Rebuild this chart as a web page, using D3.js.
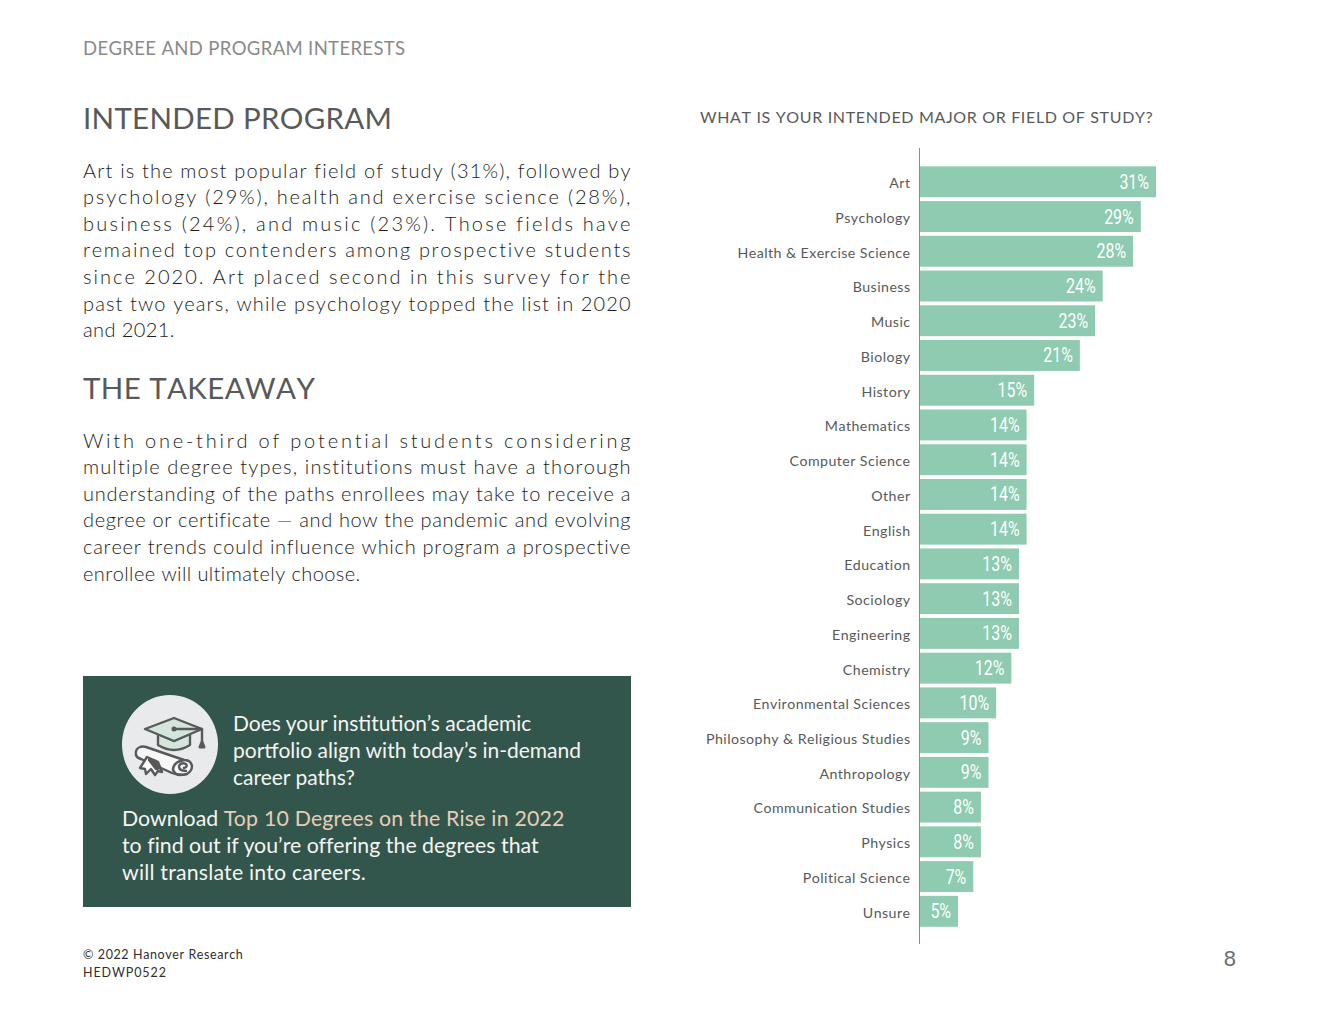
<!DOCTYPE html>
<html><head><meta charset="utf-8">
<script src="https://cdn.jsdelivr.net/npm/d3@7"></script>
<style>html,body{margin:0;background:#fff}svg{display:block}text{font-family:Lato,sans-serif;font-kerning:none;font-variant-ligatures:none}</style>
</head><body><div id="c"></div>
<script>
const categories=["Art","Psychology","Health & Exercise Science","Business","Music","Biology","History","Mathematics","Computer Science","Other","English","Education","Sociology","Engineering","Chemistry","Environmental Sciences","Philosophy & Religious Studies","Anthropology","Communication Studies","Physics","Political Science","Unsure"];
const values=[31,29,28,24,23,21,15,14,14,14,14,13,13,13,12,10,9,9,8,8,7,5];
const para1=["Art is the most popular field of study (31%), followed by","psychology (29%), health and exercise science (28%),","business (24%), and music (23%). Those fields have","remained top contenders among prospective students","since 2020. Art placed second in this survey for the","past two years, while psychology topped the list in 2020","and 2021."];
const para2=["With one-third of potential students considering","multiple degree types, institutions must have a thorough","understanding of the paths enrollees may take to receive a","degree or certificate — and how the pandemic and evolving","career trends could influence which program a prospective","enrollee will ultimately choose."];
const calloutA=["Does your institution’s academic","portfolio align with today’s in-demand","career paths?"];
const svg=d3.select("#c").append("svg").attr("width",1320).attr("height",1020);
const T=(x,y,s,size,fill,o={})=>{const t=svg.append("text").attr("x",x).attr("y",y).attr("font-size",size).attr("fill",fill).text(s);
 Object.entries(o).forEach(([k,v])=>t.attr(k,v));return t;};
T(83,54.5,"DEGREE AND PROGRAM INTERESTS",18.5,"#8a8a8a",{"letter-spacing":"0.35"});
T(83,129,"INTENDED PROGRAM",29.5,"#58595b",{"letter-spacing":"0.3"});
T(83,399,"THE TAKEAWAY",29.5,"#58595b",{"letter-spacing":"0.4"});
const para=(lines,y0)=>lines.forEach((l,i)=>{const last=i===lines.length-1;
 const o={"font-weight":300};
 if(!last){o.textLength=547.5;o.lengthAdjust="spacing";}else o["letter-spacing"]="0.4";
 T(83,y0+i*26.55,l,20,"#1c1c1c",o);});
para(para1,177.8);
para(para2,447.8);
// callout
svg.append("rect").attr("x",83).attr("y",676).attr("width",548).attr("height",231).attr("fill","#33564c");
const lig={style:"font-kerning:normal;font-variant-ligatures:normal"};
calloutA.forEach((l,i)=>T(233,731+i*27,l,21,"#f4f4f2",lig));
const d=T(122,826,"Download ",21.3,"#f4f4f2",lig);
d.append("tspan").attr("fill","#e6cdb8").attr("letter-spacing","0.2").text("Top 10 Degrees on the Rise in 2022");
T(122,853,"to find out if you’re offering the degrees that",21.3,"#f4f4f2",{...lig,"letter-spacing":"0.02"});
T(122,880,"will translate into careers.",21.3,"#f4f4f2",{...lig,"letter-spacing":"0.2"});
// icon
const ic=svg.append("g");
ic.append("ellipse").attr("cx",170).attr("cy",744.5).attr("rx",48).attr("ry",49.5).attr("fill","#e9eaeb");
const st={stroke:"#58595b","stroke-width":2.4,"stroke-linejoin":"round","stroke-linecap":"round"};
const P=(p,f)=>{const e=ic.append("path").attr("d",p).attr("fill",f||"none");Object.entries(st).forEach(([k,v])=>e.attr(k,v));return e;};
P("M158,734 V745 Q174,755 190,745 V734 L174,741 Z","#d3e6dc");
P("M145,729 L174,718 L202,729 L174,741 Z","#d3e6dc");
P("M174,729 H202 V742");
P("M200,747 L202,742 L204,747 Z","#58595b").attr("stroke-width",3);
ic.append("circle").attr("cx",174).attr("cy",729).attr("r",2.5).attr("fill","#58595b");
P("M140,747 Q135,749 136,755 Q137,758 141,759 L172,773 Q180,776 187,774 Q192,771 192,766 Q191,760 184,760 L146,747 Q143,746 140,747 Z","#f7f7f7");
P("M184,760 Q173,762 173,770 Q175,775 181,775");
P("M186,771 Q179,771 179,766 Q181,762 186,764 Q188,767 184,768");
P("M147,757 L140,768 L145,769 L146,774 L151,769 L155,775 L158,771 L162,772 L158,762 Z","#fff");
P("M149,760 L156,769 L160,768 L156,761 Z","#58595b");
// chart
T(700,122.5,"WHAT IS YOUR INTENDED MAJOR OR FIELD OF STUDY?",16,"#58595b",{"letter-spacing":"0.66"});
const x=d3.scaleLinear().domain([0,31]).range([920,1156]);
const y=d3.scaleBand().domain(categories).range([164.6,928.5]).paddingInner(0.11).paddingOuter(0.05);
const rows=categories.map((c,i)=>({c,v:values[i]}));
svg.selectAll("rect.bar").data(rows).join("rect").attr("class","bar")
 .attr("x",x(0)).attr("y",r=>y(r.c)).attr("width",r=>x(r.v)-x(0)).attr("height",y.bandwidth()).attr("fill","#8ecbb1");
const axis=d3.axisLeft(y).tickSize(0).tickPadding(9);
const yAxis=svg.append("g").attr("transform","translate(919.5,0)").call(axis);
yAxis.select(".domain").remove();
yAxis.selectAll("text").attr("font-size",14.2).attr("font-family","Lato").attr("fill","#58595b").attr("letter-spacing","0.44").attr("dy","0.45em");
svg.append("line").attr("x1",919.5).attr("x2",919.5).attr("y1",148).attr("y2",944).attr("stroke","#8a8c8e").attr("stroke-width",1);
svg.selectAll("text.v").data(rows).join("text").attr("class","v")
 .attr("text-anchor","end").attr("transform",r=>`translate(${x(r.v)-7},${y(r.c)+y.bandwidth()/2+7}) scale(0.76,1)`)
 .attr("font-size",21).attr("fill","#fff").style("font-family","Roboto,sans-serif").text(r=>r.v+"%");
// footer
T(83,959,"© 2022 Hanover Research",12.5,"#2f2f2f",{"letter-spacing":"0.6"});
T(83,977,"HEDWP0522",12.5,"#2f2f2f",{"letter-spacing":"0.9"});
T(1236,966,"8",22,"#6d6e70",{"text-anchor":"end"}).style("font-family","'Liberation Sans',sans-serif");
</script></body></html>
